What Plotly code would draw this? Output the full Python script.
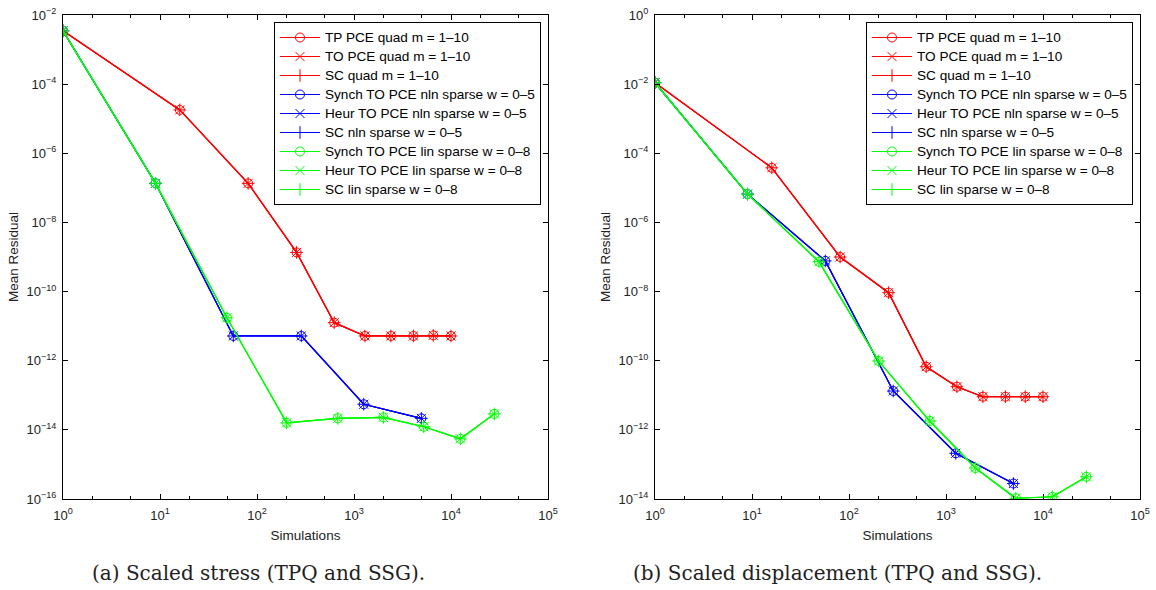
import plotly.graph_objects as go

# Number of simulations per refinement level
sim_quad = [1, 16, 81, 256, 625, 1296, 2401, 4096, 6561, 10000]
sim_nln = [1, 9, 57, 286, 1260, 4950]
sim_lin = [1, 9, 49, 202, 680, 2005, 5240, 12500, 28000]

# Mean residual, scaled stress
stress_quad = [3.5e-3, 1.8e-5, 1.35e-7, 1.36e-9, 1.26e-11, 5.2e-12, 5.2e-12, 5.2e-12, 5.4e-12, 5.2e-12]
stress_nln = [3.5e-3, 1.35e-7, 5.2e-12, 5.2e-12, 5.5e-14, 2.15e-14]
stress_lin = [3.5e-3, 1.35e-7, 1.75e-11, 1.6e-14, 2.15e-14, 2.3e-14, 1.23e-14, 5.5e-15, 2.9e-14]

# Mean residual, scaled displacement
disp_quad = [1.1e-2, 3.8e-5, 1.0e-7, 9.3e-9, 6.7e-11, 1.77e-11, 9.1e-12, 9.1e-12, 9.1e-12, 9.1e-12]
disp_nln = [1.1e-2, 6.6e-6, 7.7e-8, 1.33e-11, 2.1e-13, 2.8e-14]
disp_lin = [1.1e-2, 6.6e-6, 7.3e-8, 9.8e-11, 1.8e-12, 7.9e-14, 1.05e-14, 1.16e-14, 4.4e-14]

series_names = [
    "TP PCE quad m = 1\u201310", "TO PCE quad m = 1\u201310", "SC quad m = 1\u201310",
    "Synch TO PCE nln sparse w = 0\u20135", "Heur TO PCE nln sparse w = 0\u20135", "SC nln sparse w = 0\u20135",
    "Synch TO PCE lin sparse w = 0\u20138", "Heur TO PCE lin sparse w = 0\u20138", "SC lin sparse w = 0\u20138",
]

x_ticks = [1, 10, 100, 1000, 10000, 100000]
x_ticktext = [f"10<sup>{k}</sup>" for k in range(0, 6)]
y_exp_left = [-16, -14, -12, -10, -8, -6, -4, -2]
y_exp_right = [-14, -12, -10, -8, -6, -4, -2, 0]

FONT = "Liberation Sans, Arial, sans-serif"
SERIF = "DejaVu Serif, serif"
W, H = 1156, 590
symbols = ["circle-open", "x-thin-open", "cross-thin-open"]
colors = ["#ff0000", "#0000ff", "#00ff00"]

fig = go.Figure()


def add_panel(xref, yref, legend, groups):
    idx = 0
    for gi, (xs, ys) in enumerate(groups):
        for sym in symbols:
            fig.add_trace(go.Scatter(
                x=xs, y=ys, mode="lines+markers",
                # larger label text while keeping compact legend rows
                name=f'<span style="font-size:13.6px">{series_names[idx]}</span>',
                xaxis=xref, yaxis=yref, legend=legend,
                line=dict(color=colors[gi], width=1.2),
                marker=dict(symbol=sym, size=9, color=colors[gi],
                            line=dict(color=colors[gi], width=1)),
            ))
            idx += 1


add_panel("x", "y", "legend", [(sim_quad, stress_quad), (sim_nln, stress_nln), (sim_lin, stress_lin)])
add_panel("x2", "y2", "legend2", [(sim_quad, disp_quad), (sim_nln, disp_nln), (sim_lin, disp_lin)])

y_dom = [1 - 499 / H, 1 - 15 / H]
left_dom = [63 / W, 548 / W]
right_dom = [655 / W, 1140 / W]

common_x = dict(
    type="log", range=[0, 5], tickvals=x_ticks, ticktext=x_ticktext,
    ticks="inside", ticklen=5, tickcolor="black", showline=True, linecolor="black",
    linewidth=1, mirror="allticks", showgrid=False, zeroline=False,
    tickfont=dict(family=FONT, size=13, color="#222"), ticklabelstandoff=4,
    minor=dict(ticks="inside", ticklen=3, tickcolor="black", showgrid=False),
    title=dict(text="Simulations", font=dict(family=FONT, size=13.5, color="#222"), standoff=8),
    automargin=False,
)
common_y = dict(
    type="log", ticks="inside", ticklen=5, tickcolor="black", showline=True,
    linecolor="black", linewidth=1, mirror="allticks", showgrid=False, zeroline=False,
    tickfont=dict(family=FONT, size=13, color="#222"), ticklabelstandoff=3,
    title=dict(text="Mean Residual", font=dict(family=FONT, size=13.5, color="#222"), standoff=4),
    automargin=False,
)

legend_style = dict(
    bgcolor="white", bordercolor="black", borderwidth=1,
    font=dict(family=FONT, size=12, color="black"),
    xanchor="right", yanchor="top", tracegroupgap=0, itemwidth=40,
)

fig.update_layout(
    width=W, height=H, margin=dict(l=0, r=0, t=0, b=0),
    paper_bgcolor="white", plot_bgcolor="white",
    xaxis=dict(common_x, domain=left_dom, anchor="y"),
    yaxis=dict(common_y, domain=y_dom, anchor="x", range=[-16, -2],
               tickvals=[10.0 ** e for e in y_exp_left],
               ticktext=[f"10<sup>{str(e).replace('-', '−')}</sup>" for e in y_exp_left]),
    xaxis2=dict(common_x, domain=right_dom, anchor="y2"),
    yaxis2=dict(common_y, domain=y_dom, anchor="x2", range=[-14, 0],
                tickvals=[10.0 ** e for e in y_exp_right],
                ticktext=[f"10<sup>{str(e).replace('-', '−')}</sup>" for e in y_exp_right]),
    legend=dict(legend_style, x=541 / W, y=1 - 22 / H),
    legend2=dict(legend_style, x=1133 / W, y=1 - 22 / H),
    showlegend=True,
    annotations=[
        dict(text="(a) Scaled stress (TPQ and SSG).", x=258 / W, y=1 - 573 / H,
             xref="paper", yref="paper", xanchor="center", yanchor="middle", showarrow=False,
             font=dict(family=SERIF, size=20, color="#222")),
        dict(text="(b) Scaled displacement (TPQ and SSG).", x=837 / W, y=1 - 573 / H,
             xref="paper", yref="paper", xanchor="center", yanchor="middle", showarrow=False,
             font=dict(family=SERIF, size=20, color="#222")),
    ],
)

fig.write_html("out.html")
